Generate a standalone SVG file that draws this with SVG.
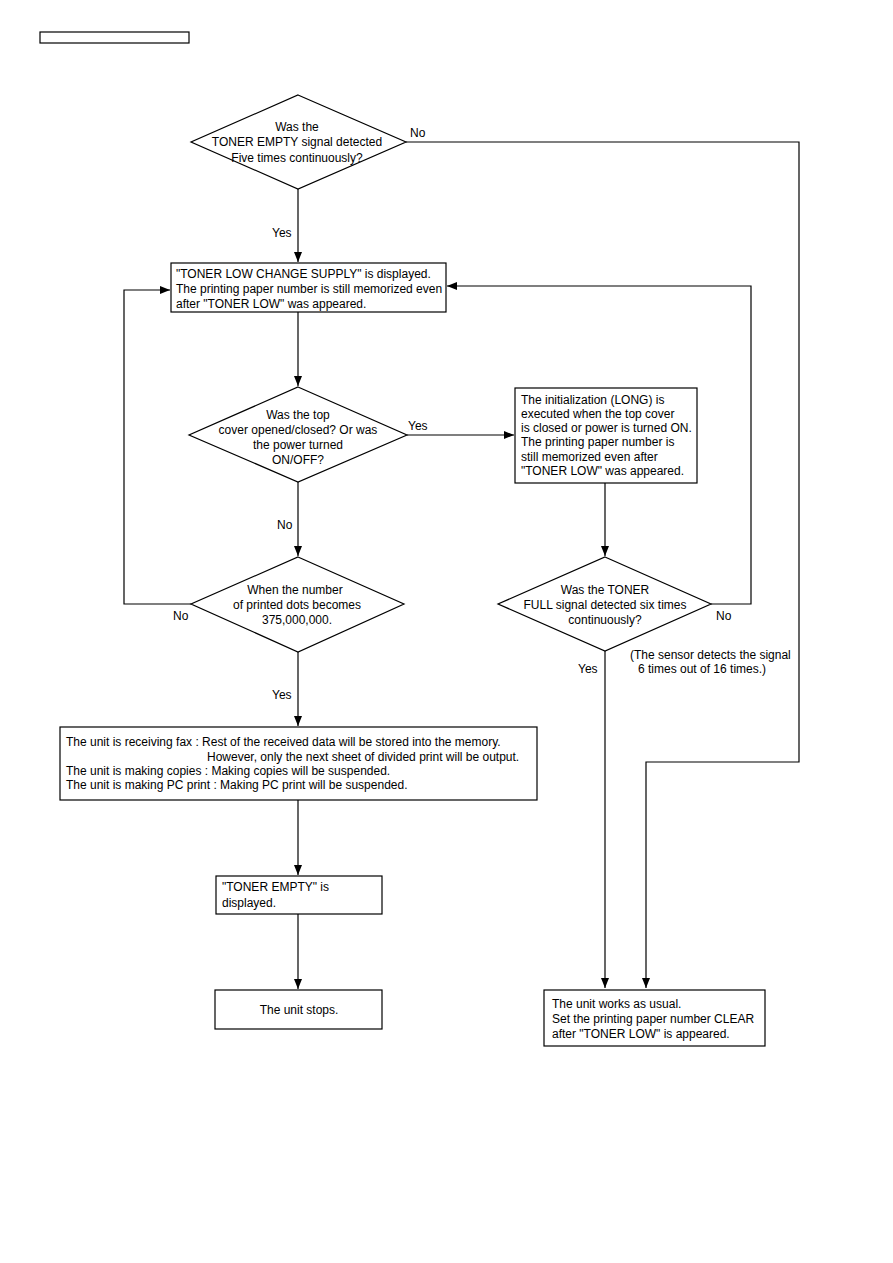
<svg xmlns="http://www.w3.org/2000/svg" width="893" height="1263" viewBox="0 0 893 1263">
<defs>
<marker id="ah" markerWidth="10" markerHeight="8" refX="10" refY="4" orient="auto" markerUnits="userSpaceOnUse">
<path d="M0,0 L10,4 L0,8 Z" fill="#000"/>
</marker>
<style>
.s{fill:#fff;stroke:#000;stroke-width:1.2}
.c{fill:none;stroke:#000;stroke-width:1.2}
text{font-family:"Liberation Sans",Arial,sans-serif;font-size:12px;fill:#000}
.m{text-anchor:middle}
</style>
</defs>
<rect width="893" height="1263" fill="#fff"/>
<rect x="40" y="32" width="149" height="11" fill="none" stroke="#000" stroke-width="1.2"/>

<g id="connectors">
<polyline class="c" points="406,142 799,142 799,762 646,762 646,988" marker-end="url(#ah)"/>
<line class="c" x1="298" y1="189" x2="298" y2="262" marker-end="url(#ah)"/>
<line class="c" x1="298" y1="312" x2="298" y2="386" marker-end="url(#ah)"/>
<line class="c" x1="407" y1="435" x2="514" y2="435" marker-end="url(#ah)"/>
<line class="c" x1="605" y1="483" x2="605" y2="556" marker-end="url(#ah)"/>
<polyline class="c" points="711,604 751,604 751,286 447,286" marker-end="url(#ah)"/>
<line class="c" x1="298" y1="482" x2="298" y2="556" marker-end="url(#ah)"/>
<polyline class="c" points="191,604 124,604 124,290 170,290" marker-end="url(#ah)"/>
<line class="c" x1="298" y1="652" x2="298" y2="726" marker-end="url(#ah)"/>
<line class="c" x1="298" y1="800" x2="298" y2="875" marker-end="url(#ah)"/>
<line class="c" x1="298" y1="914" x2="298" y2="989" marker-end="url(#ah)"/>
<line class="c" x1="605" y1="651" x2="605" y2="988" marker-end="url(#ah)"/>
<text x="410" y="137">No</text>
<text x="272" y="237">Yes</text>
<text x="408" y="430">Yes</text>
<text x="277" y="529">No</text>
<text x="173" y="620">No</text>
<text x="716" y="620">No</text>
<text x="272" y="699">Yes</text>
<text x="578" y="673">Yes</text>
<text x="630" y="659">(The sensor detects the signal</text>
<text x="638" y="673">6 times out of 16 times.)</text>
</g>

<g id="d1">
<polygon class="s" points="298,95 406,142 298,189 191,142"/>
<text class="m" x="297" y="131">Was the</text>
<text class="m" x="297" y="146">TONER EMPTY signal detected</text>
<text class="m" x="297" y="162">Five times continuously?</text>
</g>

<g id="b2">
<rect class="s" x="171" y="263" width="275" height="49"/>
<text x="176" y="278">"TONER LOW CHANGE SUPPLY" is displayed.</text>
<text x="176" y="293">The printing paper number is still memorized even</text>
<text x="176" y="308">after "TONER LOW" was appeared.</text>
</g>

<g id="d3">
<polygon class="s" points="298,387 407,435 298,482 189,435"/>
<text class="m" x="298" y="419">Was the top</text>
<text class="m" x="298" y="434">cover opened/closed? Or was</text>
<text class="m" x="298" y="449">the power turned</text>
<text class="m" x="298" y="464">ON/OFF?</text>
</g>

<g id="b4">
<rect class="s" x="515" y="388" width="182" height="95"/>
<text x="521" y="404">The initialization (LONG) is</text>
<text x="521" y="418">executed when the top cover</text>
<text x="521" y="432">is closed or power is turned ON.</text>
<text x="521" y="446">The printing paper number is</text>
<text x="521" y="461">still memorized even after</text>
<text x="521" y="475">"TONER LOW" was appeared.</text>
</g>

<g id="d4">
<polygon class="s" points="605,557 711,604 605,651 498,604"/>
<text class="m" x="605" y="594">Was the TONER</text>
<text class="m" x="605" y="609">FULL signal detected six times</text>
<text class="m" x="605" y="624">continuously?</text>
</g>

<g id="d5">
<polygon class="s" points="298,557 404,604 298,652 191,604"/>
<text class="m" x="295" y="594">When the number</text>
<text class="m" x="297" y="609">of printed dots becomes</text>
<text class="m" x="297" y="624">375,000,000.</text>
</g>

<g id="b6">
<rect class="s" x="60" y="727" width="477" height="73"/>
<text x="66" y="746">The unit is receiving fax : Rest of the received data will be stored into the memory.</text>
<text x="207" y="761">However, only the next sheet of divided print will be output.</text>
<text x="66" y="775">The unit is making copies : Making copies will be suspended.</text>
<text x="66" y="789">The unit is making PC print : Making PC print will be suspended.</text>
</g>

<g id="b7">
<rect class="s" x="216" y="876" width="166" height="38"/>
<text x="222" y="891">"TONER EMPTY" is</text>
<text x="222" y="907">displayed.</text>
</g>

<g id="b8">
<rect class="s" x="215" y="990" width="167" height="39"/>
<text class="m" x="299" y="1014">The unit stops.</text>
</g>

<g id="b9">
<rect class="s" x="544" y="990" width="221" height="56"/>
<text x="552" y="1008">The unit works as usual.</text>
<text x="552" y="1023">Set the printing paper number CLEAR</text>
<text x="552" y="1038">after "TONER LOW" is appeared.</text>
</g>
</svg>
